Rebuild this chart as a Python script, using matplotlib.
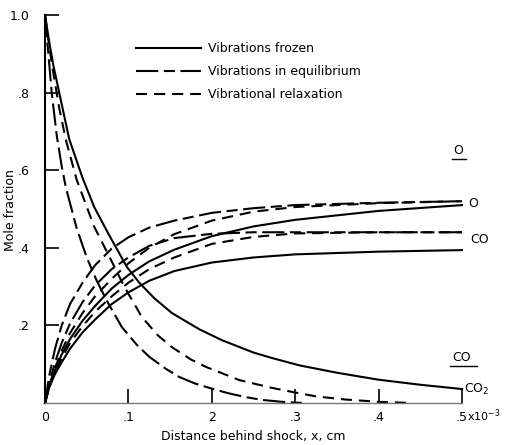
import matplotlib
matplotlib.use("Agg")
import matplotlib.pyplot as plt
from matplotlib.lines import Line2D

# distance behind shock (units of 1e-3 cm) and mole fractions
x_up = [0, 0.005, 0.012, 0.02, 0.03, 0.045, 0.06, 0.08, 0.1, 0.125, 0.155, 0.2, 0.25, 0.3, 0.4, 0.5]
o_eq = [0, 0.07, 0.14, 0.2, 0.255, 0.31, 0.355, 0.398, 0.427, 0.452, 0.47, 0.49, 0.502, 0.51, 0.516, 0.52]
co_eq = [0, 0.05, 0.105, 0.155, 0.205, 0.26, 0.303, 0.345, 0.375, 0.405, 0.425, 0.436, 0.44, 0.44, 0.44, 0.44]
o_relax = [0, 0.045, 0.09, 0.135, 0.18, 0.232, 0.275, 0.32, 0.36, 0.4, 0.435, 0.47, 0.493, 0.505, 0.515, 0.52]
co_relax = [0, 0.04, 0.08, 0.115, 0.155, 0.198, 0.235, 0.275, 0.31, 0.345, 0.375, 0.41, 0.428, 0.437, 0.44, 0.44]
o_frozen = [0, 0.045, 0.085, 0.125, 0.165, 0.212, 0.25, 0.295, 0.33, 0.365, 0.395, 0.43, 0.455, 0.472, 0.495, 0.51]
co_frozen = [0, 0.04, 0.075, 0.105, 0.14, 0.182, 0.215, 0.255, 0.285, 0.315, 0.34, 0.362, 0.375, 0.383, 0.39, 0.394]

x_co2_frozen = [0, 0.005, 0.01, 0.02, 0.029, 0.045, 0.059, 0.075, 0.098, 0.113, 0.131, 0.152,
                0.185, 0.212, 0.25, 0.272, 0.305, 0.35, 0.4, 0.45, 0.5]
co2_frozen = [1.0, 0.93, 0.87, 0.77, 0.68, 0.58, 0.505, 0.44, 0.351, 0.31, 0.27, 0.232,
              0.19, 0.162, 0.13, 0.116, 0.097, 0.078, 0.06, 0.047, 0.036]

x_co2_relax = [0, 0.005, 0.01, 0.017, 0.025, 0.038, 0.059, 0.079, 0.095, 0.116, 0.135, 0.152,
               0.175, 0.193, 0.233, 0.272, 0.3, 0.325, 0.36, 0.4, 0.44]
co2_relax = [1.0, 0.92, 0.85, 0.76, 0.678, 0.575, 0.454, 0.369, 0.3, 0.222, 0.175, 0.144,
             0.112, 0.093, 0.059, 0.039, 0.027, 0.017, 0.009, 0.003, 0.0]

x_co2_eq = [0, 0.004, 0.008, 0.014, 0.02, 0.025, 0.038, 0.05, 0.062, 0.075, 0.092, 0.11,
            0.125, 0.145, 0.161, 0.18, 0.2, 0.22, 0.241, 0.26, 0.284, 0.31]
co2_eq = [1.0, 0.9, 0.8, 0.69, 0.61, 0.555, 0.45, 0.375, 0.315, 0.26, 0.196, 0.15,
          0.119, 0.088, 0.067, 0.05, 0.037, 0.025, 0.015, 0.008, 0.003, 0.0]

x_ticks = [0, 0.1, 0.2, 0.3, 0.4, 0.5]
x_ticklabels = ['0', '.1', '2', '.3', '.4', '.5']
y_ticks = [0.2, 0.4, 0.6, 0.8, 1.0]
y_ticklabels = ['.2', '.4', '.6', '.8', '1.0']

legend_labels = ['Vibrations frozen', 'Vibrations in equilibrium', 'Vibrational relaxation']

plt.rcParams.update({'font.family': 'DejaVu Sans', 'font.size': 9, 'lines.scale_dashes': False})

EQ = (0, (16, 4, 8, 4))
RELAX = (0, (8, 5))
LW = 1.5

fig = plt.figure(figsize=(5.06, 4.45), dpi=100)
ax = fig.add_axes([0.089, 0.0944, 0.824, 0.872])

# frozen
ax.plot(x_up, o_frozen, color='k', lw=LW, clip_on=False)
ax.plot(x_up, co_frozen, color='k', lw=LW, clip_on=False)
ax.plot(x_co2_frozen, co2_frozen, color='k', lw=LW, clip_on=False)
# equilibrium
ax.plot(x_up, o_eq, color='k', lw=LW, linestyle=EQ, clip_on=False)
ax.plot(x_up, co_eq, color='k', lw=LW, linestyle=EQ, clip_on=False)
ax.plot(x_co2_eq, co2_eq, color='k', lw=LW, linestyle=EQ, clip_on=False)
# relaxation
ax.plot(x_up, o_relax, color='k', lw=LW, linestyle=RELAX, clip_on=False)
ax.plot(x_up, co_relax, color='k', lw=LW, linestyle=RELAX, clip_on=False)
ax.plot(x_co2_relax, co2_relax, color='k', lw=LW, linestyle=RELAX, clip_on=False)

ax.set_xlim(0, 0.5)
ax.set_ylim(0, 1.0)
ax.spines['top'].set_visible(False)
ax.spines['right'].set_visible(False)
ax.spines['left'].set_linewidth(1.5)
ax.spines['bottom'].set_linewidth(1.0)
ax.spines['bottom'].set_color('#777777')

ax.set_xticks(x_ticks)
ax.set_xticklabels(x_ticklabels)
ax.set_yticks(y_ticks)
ax.set_yticklabels(y_ticklabels)
ax.tick_params(axis='both', direction='in', length=10, width=1.2)
ax.tick_params(axis='y', pad=11)
ax.tick_params(axis='x', pad=6)

ax.text(0.506, -0.033, 'x10$^{-3}$', fontsize=8, ha='left', va='center')

ax.set_xlabel('Distance behind shock, x, cm')
ax.set_ylabel('Mole fraction')
ax.xaxis.set_label_coords(0.5, -0.07)
ax.yaxis.set_label_coords(-0.068, 0.497)

# species labels at right end
ax.text(0.507, 0.513, 'O', ha='left', va='center', clip_on=False)
ax.text(0.510, 0.422, 'CO', ha='left', va='center', clip_on=False)
ax.text(0.503, 0.036, 'CO$_2$', ha='left', va='center', clip_on=False)

# underlined equilibrium labels
for lx, ly, lab in [(0.490, 0.650, 'O'), (0.488, 0.117, 'CO')]:
    ax.text(lx, ly, lab, ha='left', va='center', clip_on=False)
    w = 0.015 * len(lab)
    ax.plot([lx - 0.002, lx + w], [ly - 0.022, ly - 0.022], color='k', lw=1.0, clip_on=False)

handles = [Line2D([], [], color='k', lw=LW),
           Line2D([], [], color='k', lw=LW, linestyle=EQ),
           Line2D([], [], color='k', lw=LW, linestyle=RELAX)]
ax.legend(handles, legend_labels, loc='upper left', bbox_to_anchor=(0.19, 0.958),
          frameon=False, handlelength=5.2, handletextpad=0.6, labelspacing=0.8)

fig.savefig('out.png', dpi=100)
